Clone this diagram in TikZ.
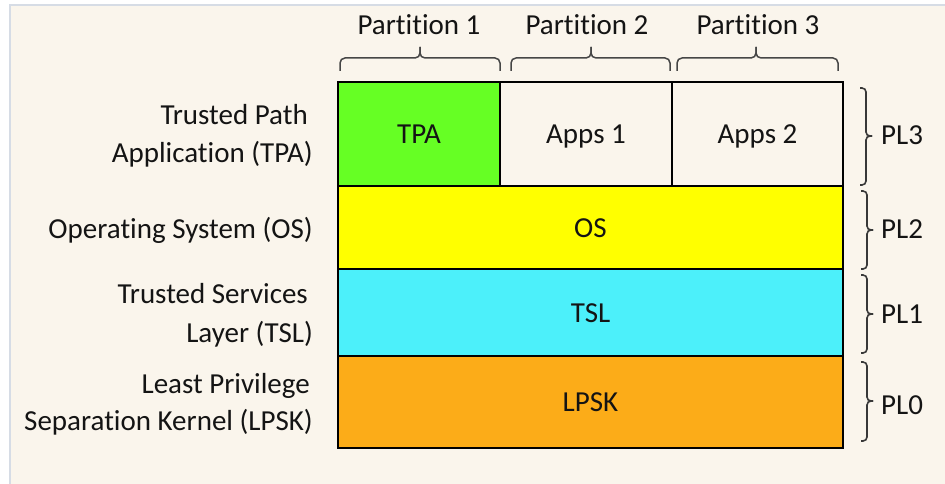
\documentclass[tikz,border=0pt]{standalone}
\usepackage{fontspec}
\setmainfont[Ligatures=NoCommon]{Carlito}
\definecolor{cream}{RGB}{250,245,236}
\definecolor{framec}{RGB}{214,220,229}
\definecolor{tpagreen}{RGB}{102,255,36}
\definecolor{osyellow}{RGB}{255,255,0}
\definecolor{tslcyan}{RGB}{76,240,250}
\definecolor{lpskorange}{RGB}{252,172,24}
\definecolor{txt}{RGB}{20,20,20}
\definecolor{bracegray}{RGB}{70,70,70}
\tikzset{
  layer/.style={draw=black, line width=1.4pt, text height=19pt, text depth=0pt, inner sep=0pt},
  lbl/.style={anchor=base east},
  plbl/.style={anchor=base},
  pllbl/.style={anchor=west},
  pbrace/.style={draw=bracegray, line width=1.5pt, rounded corners=5pt},
  rbrace/.style={draw=bracegray!80!black, line width=1.6pt, rounded corners=4pt}
}
\begin{document}
\begin{tikzpicture}[x=1pt,y=-1pt,
  every node/.style={font=\fontsize{29}{34}\selectfont, text=txt, inner sep=0pt}]
\useasboundingbox (0,0) rectangle (945,484);
\fill[white] (0,0) rectangle (945,484);
\fill[cream] (10,5) rectangle (945,484);
\draw[framec, line width=2pt] (10,484) -- (10,5.5) -- (945,5.5);

% layers
\node[layer, fill=tpagreen, minimum width=162pt, minimum height=104pt] (tpa) at (419,134) {TPA};
\node[layer, fill=cream, minimum width=172pt, minimum height=104pt] (apps1) at (586,134) {Apps 1};
\node[layer, fill=cream, minimum width=171pt, minimum height=104pt] (apps2) at (757.5,134) {Apps 2};
\node[layer, fill=osyellow, minimum width=505pt, minimum height=83pt] (os) at (590.5,227.5) {OS};
\node[layer, fill=tslcyan, minimum width=505pt, minimum height=87pt] (tsl) at (590.5,312.5) {TSL};
\node[layer, fill=lpskorange, minimum width=505pt, minimum height=92pt] (lpsk) at (590.5,402) {LPSK};

% partition labels
\node[plbl] (p1) at (419,35) {Partition 1};
\node[plbl] (p2) at (587,35) {Partition 2};
\node[plbl] (p3) at (758,35) {Partition 3};

% top braces
\draw[pbrace] (340,71) -- (340,58) -- (420,58) -- (420,47);
\draw[pbrace] (500,71) -- (500,58) -- (420,58) -- (420,47);
\draw[pbrace] (511,71) -- (511,58) -- (591,58) -- (591,47);
\draw[pbrace] (670,71) -- (670,58) -- (591,58) -- (591,47);
\draw[pbrace] (677,71) -- (677,58) -- (756,58) -- (756,47);
\draw[pbrace] (838,71) -- (838,58) -- (756,58) -- (756,47);

% left labels
\node[lbl] (l1a) at (308,125) {Trusted Path};
\node[lbl] (l1b) at (313,163) {Application (TPA)};
\node[lbl] (l2) at (313,238) {Operating System (OS)};
\node[lbl] (l3a) at (308,303) {Trusted Services};
\node[lbl] (l3b) at (313,342) {Layer (TSL)};
\node[lbl] (l4a) at (310,393) {Least Privilege};
\node[lbl] (l4b) at (313,430) {Separation Kernel (LPSK)};

% right braces
\draw[rbrace] (860,88) -- (866,88) -- (866,136) -- (872,136);
\draw[rbrace] (860,185) -- (866,185) -- (866,136) -- (872,136);
\draw[rbrace] (861,191) -- (867,191) -- (867,230) -- (873,230);
\draw[rbrace] (861,269) -- (867,269) -- (867,230) -- (873,230);
\draw[rbrace] (861,275) -- (867,275) -- (867,314) -- (873,314);
\draw[rbrace] (861,353) -- (867,353) -- (867,314) -- (873,314);
\draw[rbrace] (861,362) -- (867,362) -- (867,401) -- (873,401);
\draw[rbrace] (861,441) -- (867,441) -- (867,401) -- (873,401);

% privilege level labels
\node[pllbl] (pl3) at (881,135) {PL3};
\node[pllbl] (pl2) at (881,229) {PL2};
\node[pllbl] (pl1) at (881,314) {PL1};
\node[pllbl] (pl0) at (881,405) {PL0};
\end{tikzpicture}
\end{document}
